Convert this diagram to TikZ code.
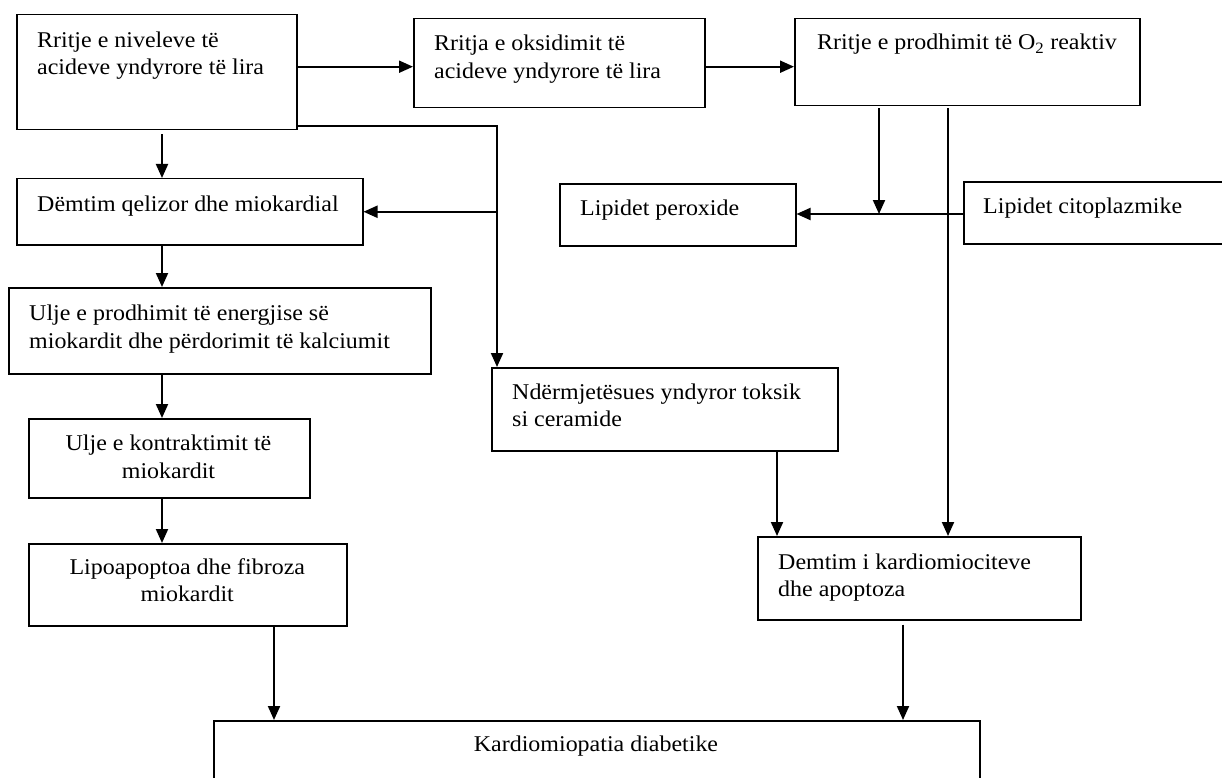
\documentclass[tikz,border=0pt]{standalone}
\usepackage{fontspec}
\setmainfont{Liberation Serif}[FakeStretch=1.065]
\usetikzlibrary{arrows.meta}
\begin{document}
\begin{tikzpicture}[x=1pt,y=-1pt,
  box/.style={draw,line width=1.5pt,rectangle,inner sep=0pt,anchor=north west},
  txt/.style={inner sep=0pt,align=left,anchor=base west,font=\fontsize{22.5}{27.5}\selectfont},
  ctxt/.style={inner sep=0pt,align=center,anchor=base,font=\fontsize{22.5}{27.5}\selectfont},
  arr/.style={line width=2pt,-{Triangle[length=14pt,width=12pt]}},
  ln/.style={line width=2pt}]
\path[use as bounding box] (0,0) rectangle (1222,778);
\clip (0,0) rectangle (1222,778);
\fill[white] (0,0) rectangle (1222,778);
% boxes
\node[box,minimum width=280pt,minimum height=115pt] (A) at (16,14) {};
\node[box,minimum width=291pt,minimum height=89pt] (B) at (413,18) {};
\node[box,minimum width=345pt,minimum height=87pt] (C) at (794,18) {};
\node[box,minimum width=236pt,minimum height=62pt] (Perox) at (559,183) {};
\node[box,minimum width=300pt,minimum height=62pt] (Cito) at (963,181) {};
\node[box,minimum width=346pt,minimum height=66pt] (Dem1) at (16,178) {};
\node[box,minimum width=422pt,minimum height=86pt] (Ulje1) at (8,287) {};
\node[box,minimum width=281pt,minimum height=79pt] (Ulje2) at (28,418) {};
\node[box,minimum width=318pt,minimum height=82pt] (Lipo) at (28,543) {};
\node[box,minimum width=346pt,minimum height=83pt] (Nder) at (491,367) {};
\node[box,minimum width=323pt,minimum height=83pt] (Dem2) at (757,536) {};
\node[box,minimum width=766pt,minimum height=100pt] (Kard) at (213,720) {};
% texts (base = baseline of last line)
\node[txt] (tA) at (37,75) {Rritje e niveleve të\\acideve yndyrore të lira};
\node[txt] (tB) at (434,78.3) {Rritja e oksidimit të\\acideve yndyrore të lira};
\node[txt] (tC) at (817,50) {Rritje e prodhimit të O\textsubscript{2} reaktiv};
\node[txt] (tPerox) at (580,215) {Lipidet peroxide};
\node[txt] (tCito) at (983,213) {Lipidet citoplazmike};
\node[txt] (tDem1) at (37,211.7) {Dëmtim qelizor dhe miokardial};
\node[txt] (tUlje1) at (29,348.3) {Ulje e prodhimit të energjise së\\miokardit dhe përdorimit të kalciumit};
\node[ctxt] (tUlje2) at (168.5,478.3) {Ulje e kontraktimit të\\miokardit};
\node[ctxt] (tLipo) at (187.3,601.7) {Lipoapoptoa dhe fibroza\\miokardit};
\node[txt] (tNder) at (512,426.7) {Ndërmjetësues yndyror toksik\\si ceramide};
\node[txt] (tDem2) at (778,596.7) {Demtim i kardiomiociteve\\dhe apoptoza};
\node[ctxt] (tKard) at (596,751.7) {Kardiomiopatia diabetike};
% helper coordinates
\coordinate (yab) at (0,66.7);
\coordinate (j1) at (497,125.7);
\coordinate (j2) at (879,214);
\coordinate (lc) at (162,0);
\coordinate (xl) at (274,0);
\coordinate (xr) at (948,0);
\coordinate (xn) at (777,0);
\coordinate (xd) at (903,0);
% connectors
\draw[arr] (A.east |- yab) -- (B.west |- yab);
\draw[arr] (B.east |- yab) -- (C.west |- yab);
\draw[arr] (A.east |- j1) -- (j1) -- (j1 |- Nder.north);
\draw[arr] (j1 |- Dem1.east) -- (Dem1.east);
\draw[arr,shorten <=4pt] (A.south -| lc) -- (Dem1.north -| lc);
\draw[arr] (Dem1.south -| lc) -- (Ulje1.north -| lc);
\draw[arr] (Ulje1.south -| lc) -- (Ulje2.north -| lc);
\draw[arr] (Ulje2.south -| lc) -- (Lipo.north -| lc);
\draw[arr] (Lipo.south -| xl) -- (Kard.north -| xl);
\draw[arr,shorten <=2pt] (C.south -| j2) -- (j2);
\draw[arr] (Cito.west |- j2) -- (Perox.east |- j2);
\draw[arr,shorten <=2pt] (C.south -| xr) -- (Dem2.north -| xr);
\draw[arr] (Nder.south -| xn) -- (Dem2.north -| xn);
\draw[arr,shorten <=4pt] (Dem2.south -| xd) -- (Kard.north -| xd);
\end{tikzpicture}
\end{document}
